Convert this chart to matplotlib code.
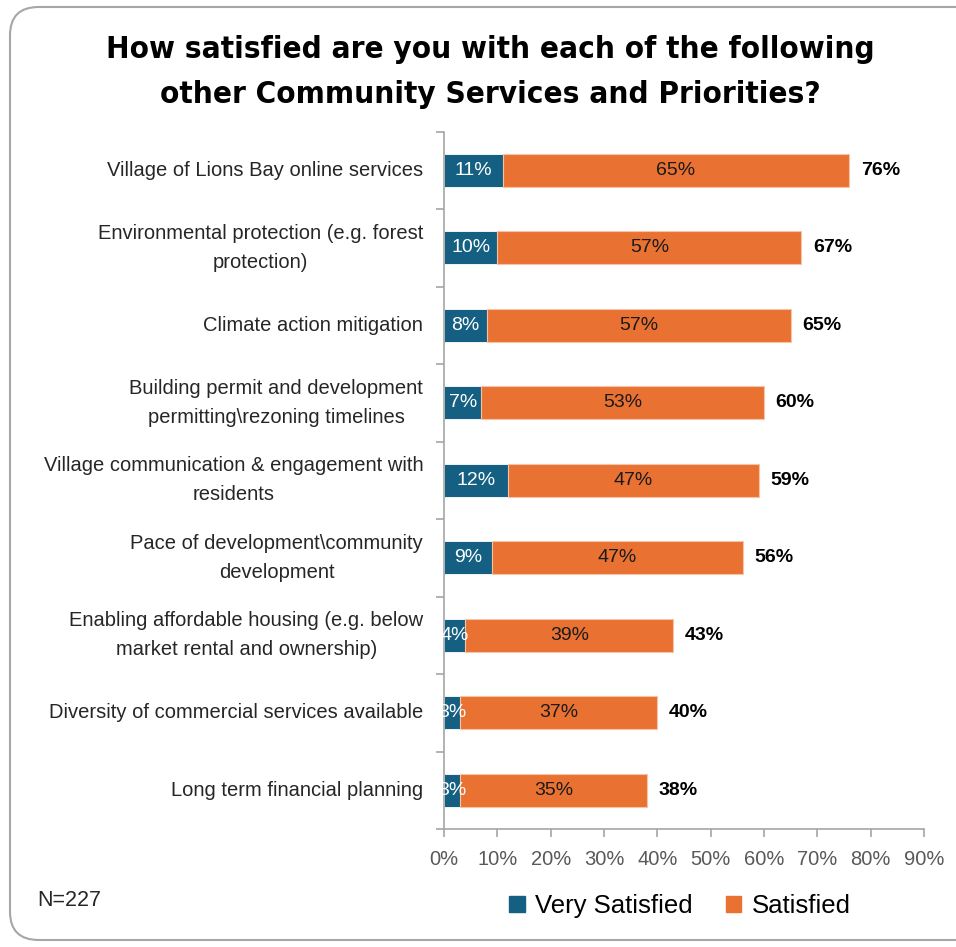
import matplotlib.pyplot as plt
from matplotlib.patches import FancyBboxPatch, Patch

# survey results (share of respondents)
categories = [
    "Village of Lions Bay online services",
    "Environmental protection (e.g. forest\nprotection)",
    "Climate action mitigation",
    "Building permit and development\npermitting\\rezoning timelines",
    "Village communication & engagement with\nresidents",
    "Pace of development\\community\ndevelopment",
    "Enabling affordable housing (e.g. below\nmarket rental and ownership)",
    "Diversity of commercial services available",
    "Long term financial planning",
]
very_satisfied = [11, 10, 8, 7, 12, 9, 4, 3, 3]
satisfied = [65, 57, 57, 53, 47, 47, 39, 37, 35]
totals = [76, 67, 65, 60, 59, 56, 43, 40, 38]
x_ticks = [0, 10, 20, 30, 40, 50, 60, 70, 80, 90]

BLUE = "#156082"
ORANGE = "#E97132"
GREY = "#A6A6A6"

plt.rcParams['font.family'] = ['Liberation Sans', 'DejaVu Sans']

fig = plt.figure(figsize=(9.56, 9.47), dpi=100)

# rounded chart-area frame
frame = FancyBboxPatch((10 / 956, 7 / 947), 1.2, 933 / 947,
                       boxstyle="round,pad=0,rounding_size=0.03",
                       transform=fig.transFigure, facecolor="white",
                       edgecolor=GREY, linewidth=1.5, zorder=-5)
fig.patches.append(frame)

ax = fig.add_axes([444 / 956, 1 - 829 / 947, 480 / 956, 697.5 / 947])
ax.set_facecolor("none")
ax.set_zorder(2)

y = list(range(len(categories)))
h = 0.42
ax.barh(y, very_satisfied, height=h, color=BLUE, edgecolor="white", linewidth=0.6)
ax.barh(y, satisfied, left=very_satisfied, height=h, color=ORANGE,
        edgecolor="#F5C3A6", linewidth=0.8)

for i in y:
    ax.text(very_satisfied[i] / 2, i, f"{very_satisfied[i]}%", ha="center",
            va="center", color="white", fontsize=14)
    ax.text(very_satisfied[i] + satisfied[i] / 2, i, f"{satisfied[i]}%",
            ha="center", va="center", color="#1a1a1a", fontsize=14)
    ax.text(totals[i] + 2.2, i, f"{totals[i]}%", ha="left", va="center",
            color="black", fontsize=14, fontweight="bold")

ax.set_ylim(len(categories) - 0.5, -0.5)
ax.set_xlim(0, 90)

ax.set_xticks(x_ticks)
ax.set_xticklabels([f"{t}%" for t in x_ticks], fontsize=14.5, color="#595959")
ax.tick_params(axis="x", direction="out", length=6, color=GREY, width=1.2, pad=9)

# category ticks sit between the bars
ax.set_yticks([i + 0.5 for i in range(-1, len(categories))])
ax.set_yticklabels([])
ax.tick_params(axis="y", direction="out", length=6, color=GREY, width=1.2)
for i, label in enumerate(categories):
    ax.text(-3.9, i, label, ha="right", va="center", multialignment="center",
            fontsize=14.5, color="#262626", linespacing=1.65)

for side in ["top", "right"]:
    ax.spines[side].set_visible(False)
for side in ["left", "bottom"]:
    ax.spines[side].set_color(GREY)
    ax.spines[side].set_linewidth(1.2)

fig.text(490 / 956, 1 - 72 / 947,
         "How satisfied are you with each of the following\nother Community Services and Priorities?",
         ha="center", va="center", fontsize=22.5, fontweight="bold",
         family="DejaVu Sans", fontstretch="condensed", linespacing=1.7)

fig.text(37 / 956, 1 - 900 / 947, "N=227", ha="left", va="center",
         fontsize=15.5, color="#262626")

handles = [Patch(color=BLUE, label="Very Satisfied"),
           Patch(color=ORANGE, label="Satisfied")]
fig.legend(handles=handles, loc="center", bbox_to_anchor=(680 / 956, 1 - 906 / 947),
           ncol=2, frameon=False, fontsize=18.5, handlelength=0.6,
           handleheight=0.6, handletextpad=0.4, columnspacing=1.3)

fig.savefig("out.png", dpi=100)
